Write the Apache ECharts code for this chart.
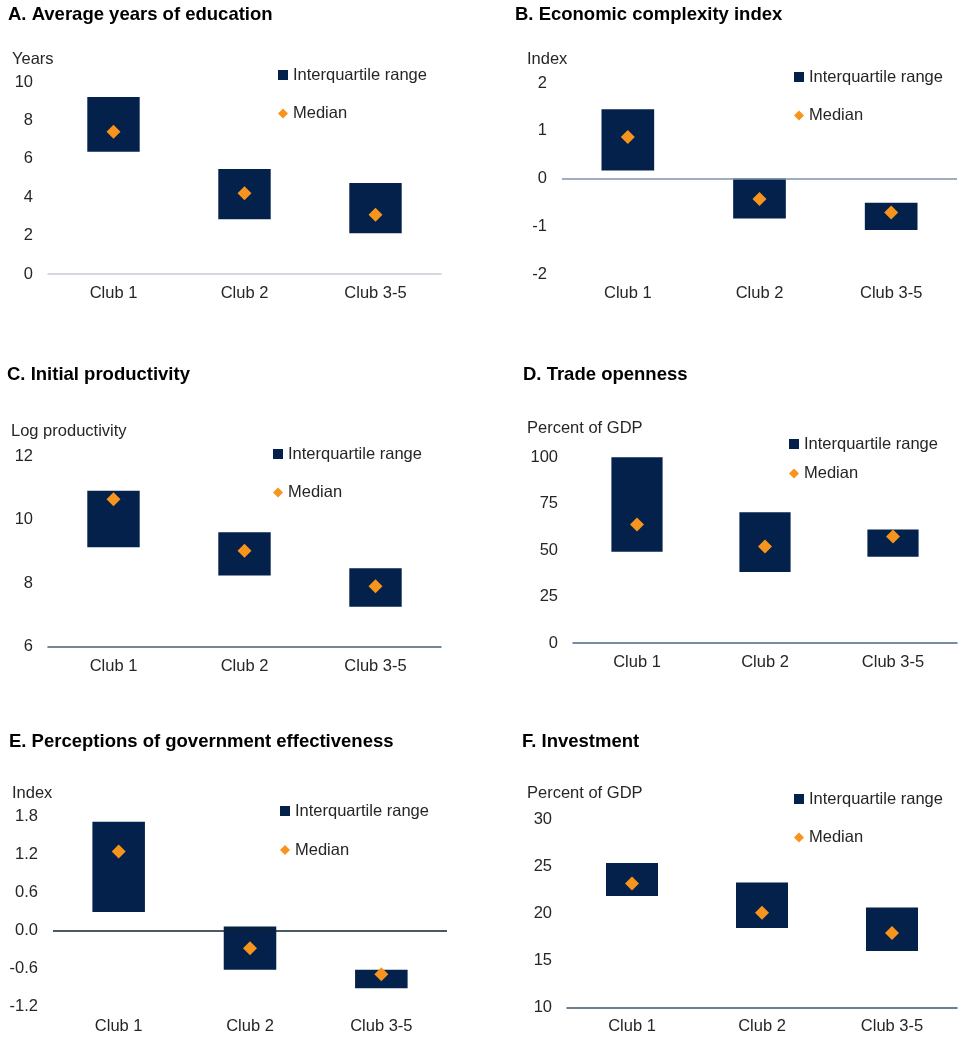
<!DOCTYPE html>
<html>
<head>
<meta charset="utf-8">
<script src="https://cdn.jsdelivr.net/npm/echarts@6/dist/echarts.min.js"></script>
<style>
  html, body { margin: 0; padding: 0; background: #fff; }
  #chart { width: 958px; height: 1037px; }
</style>
</head>
<body>
<div id="chart"></div>
<script>
const categories = ['Club 1', 'Club 2', 'Club 3-5']

// interquartile range (low / high) and medians, per panel
const eduLow = [6.37, 2.85, 2.12]
const eduHigh = [9.22, 5.47, 4.74]
const eduMedian = [7.41, 4.2, 3.09]

const eciLow = [0.17, -0.84, -1.08]
const eciHigh = [1.45, 0, -0.51]
const eciMedian = [0.87, -0.43, -0.71]

const prodLow = [9.13, 8.24, 7.26]
const prodHigh = [10.91, 9.6, 8.47]
const prodMedian = [10.64, 9.02, 7.9]

const tradeLow = [49.1, 38.2, 46.4]
const tradeHigh = [100, 70.4, 61.1]
const tradeMedian = [63.8, 52, 57.4]

const govLow = [0.29, -0.62, -0.91]
const govHigh = [1.71, 0.06, -0.62]
const govMedian = [1.24, -0.28, -0.69]

const invLow = [21.85, 18.43, 15.98]
const invHigh = [25.34, 23.28, 20.61]
const invMedian = [23.17, 20.07, 17.9]

const FONT = '"Liberation Sans", Arial, sans-serif'
const BAR = '#03214a'
const DOT = '#f7941d'

const panels = [
  { title: 'A. Average years of education', unit: 'Years', low: eduLow, high: eduHigh, med: eduMedian,
    min: 0, max: 10, interval: 2, dec: 0,
    titlePos: [8, 4], unitPos: [12, 49], grid: [48, 82, 393, 192], legend: [278, 65, 18.5],
    lineColor: '#c3cad6', zeroLine: false },
  { title: 'B. Economic complexity index', unit: 'Index', low: eciLow, high: eciHigh, med: eciMedian,
    min: -2, max: 2, interval: 1, dec: 0,
    titlePos: [515, 4], unitPos: [527, 49], grid: [562, 83, 395, 191], legend: [794, 67, 18.5],
    lineColor: '#7e93ab', zeroLine: true },
  { title: 'C. Initial productivity', unit: 'Log productivity', low: prodLow, high: prodHigh, med: prodMedian,
    min: 6, max: 12, interval: 2, dec: 0,
    titlePos: [7, 364], unitPos: [11, 421], grid: [48, 456, 393, 190.7], legend: [273, 444, 18.5],
    lineColor: '#4f5e70', zeroLine: false },
  { title: 'D. Trade openness', unit: 'Percent of GDP', low: tradeLow, high: tradeHigh, med: tradeMedian,
    min: 0, max: 100, interval: 25, dec: 0,
    titlePos: [523, 364], unitPos: [527, 418], grid: [573, 457.3, 384, 185.7], legend: [789, 434, 9.4],
    lineColor: '#4a6a88', zeroLine: false },
  { title: 'E. Perceptions of government effectiveness', unit: 'Index', low: govLow, high: govHigh, med: govMedian,
    min: -1.2, max: 1.8, interval: 0.6, dec: 1,
    titlePos: [9, 731], unitPos: [12, 783], grid: [53, 816, 394, 190.7], legend: [280, 801, 19],
    lineColor: '#0e2233', zeroLine: true },
  { title: 'F. Investment', unit: 'Percent of GDP', low: invLow, high: invHigh, med: invMedian,
    min: 10, max: 30, interval: 5, dec: 0,
    titlePos: [522, 731], unitPos: [527, 783], grid: [567, 819.3, 390, 188], legend: [794, 789, 18.5],
    lineColor: '#3f5670', zeroLine: false }
]

const title = []
const grid = []
const xAxis = []
const yAxis = []
const legend = []
const series = []

panels.forEach((p, i) => {
  title.push({
    text: p.title, left: p.titlePos[0], top: p.titlePos[1], padding: 0,
    textStyle: { fontFamily: FONT, fontSize: 18.5, fontWeight: 'bold', color: '#000', lineHeight: 22 }
  })
  title.push({
    text: p.unit, left: p.unitPos[0], top: p.unitPos[1], padding: 0,
    textStyle: { fontFamily: FONT, fontSize: 16.5, fontWeight: 'normal', color: '#262626', lineHeight: 20 }
  })
  grid.push({ left: p.grid[0], top: p.grid[1], width: p.grid[2], height: p.grid[3] })
  xAxis.push({
    type: 'category', gridIndex: i, data: categories,
    axisLine: { show: !p.zeroLine, onZero: false, lineStyle: { color: p.lineColor, width: 1.5 } },
    axisTick: { show: false },
    axisLabel: { margin: 11, fontFamily: FONT, fontSize: 16.5, color: '#262626' }
  })
  yAxis.push({
    type: 'value', gridIndex: i, min: p.min, max: p.max, interval: p.interval,
    axisLine: { show: false }, axisTick: { show: false }, splitLine: { show: false },
    axisLabel: {
      margin: 15, fontFamily: FONT, fontSize: 16.5, color: '#262626',
      formatter: v => v.toFixed(p.dec)
    }
  })
  legend.push({
    orient: 'vertical', left: p.legend[0], top: p.legend[1], padding: 0,
    itemGap: p.legend[2], itemWidth: 10, itemHeight: 10, selectedMode: false,
    textStyle: { fontFamily: FONT, fontSize: 16.5, color: '#262626', lineHeight: 20 },
    data: [
      { name: 'Interquartile range', icon: 'path://M1,1L9,1L9,9L1,9Z' },
      { name: 'Median', icon: 'diamond' }
    ]
  })
  series.push({
    name: 'base' + i, type: 'bar', xAxisIndex: i, yAxisIndex: i,
    stack: 'iqr' + i, stackStrategy: 'all', barWidth: '40%',
    itemStyle: { color: 'transparent' }, silent: true,
    data: p.low
  })
  const range = {
    name: 'Interquartile range', type: 'bar', xAxisIndex: i, yAxisIndex: i,
    stack: 'iqr' + i, stackStrategy: 'all', barWidth: '40%',
    itemStyle: { color: BAR },
    data: p.high.map((h, k) => +(h - p.low[k]).toFixed(3))
  }
  if (p.zeroLine) {
    range.markLine = {
      silent: true, symbol: 'none', label: { show: false },
      lineStyle: { color: p.lineColor, width: 1.5, type: 'solid' },
      data: [{ yAxis: 0 }]
    }
  }
  series.push(range)
  series.push({
    name: 'Median', type: 'scatter', xAxisIndex: i, yAxisIndex: i,
    symbol: 'diamond', symbolSize: 14, z: 5,
    itemStyle: { color: DOT, opacity: 1 },
    data: p.med
  })
})

const chart = echarts.init(document.getElementById('chart'), null, { renderer: 'canvas' })
chart.setOption({
  animation: false,
  backgroundColor: '#fff',
  title, grid, xAxis, yAxis, legend, series
})
</script>
</body>
</html>
